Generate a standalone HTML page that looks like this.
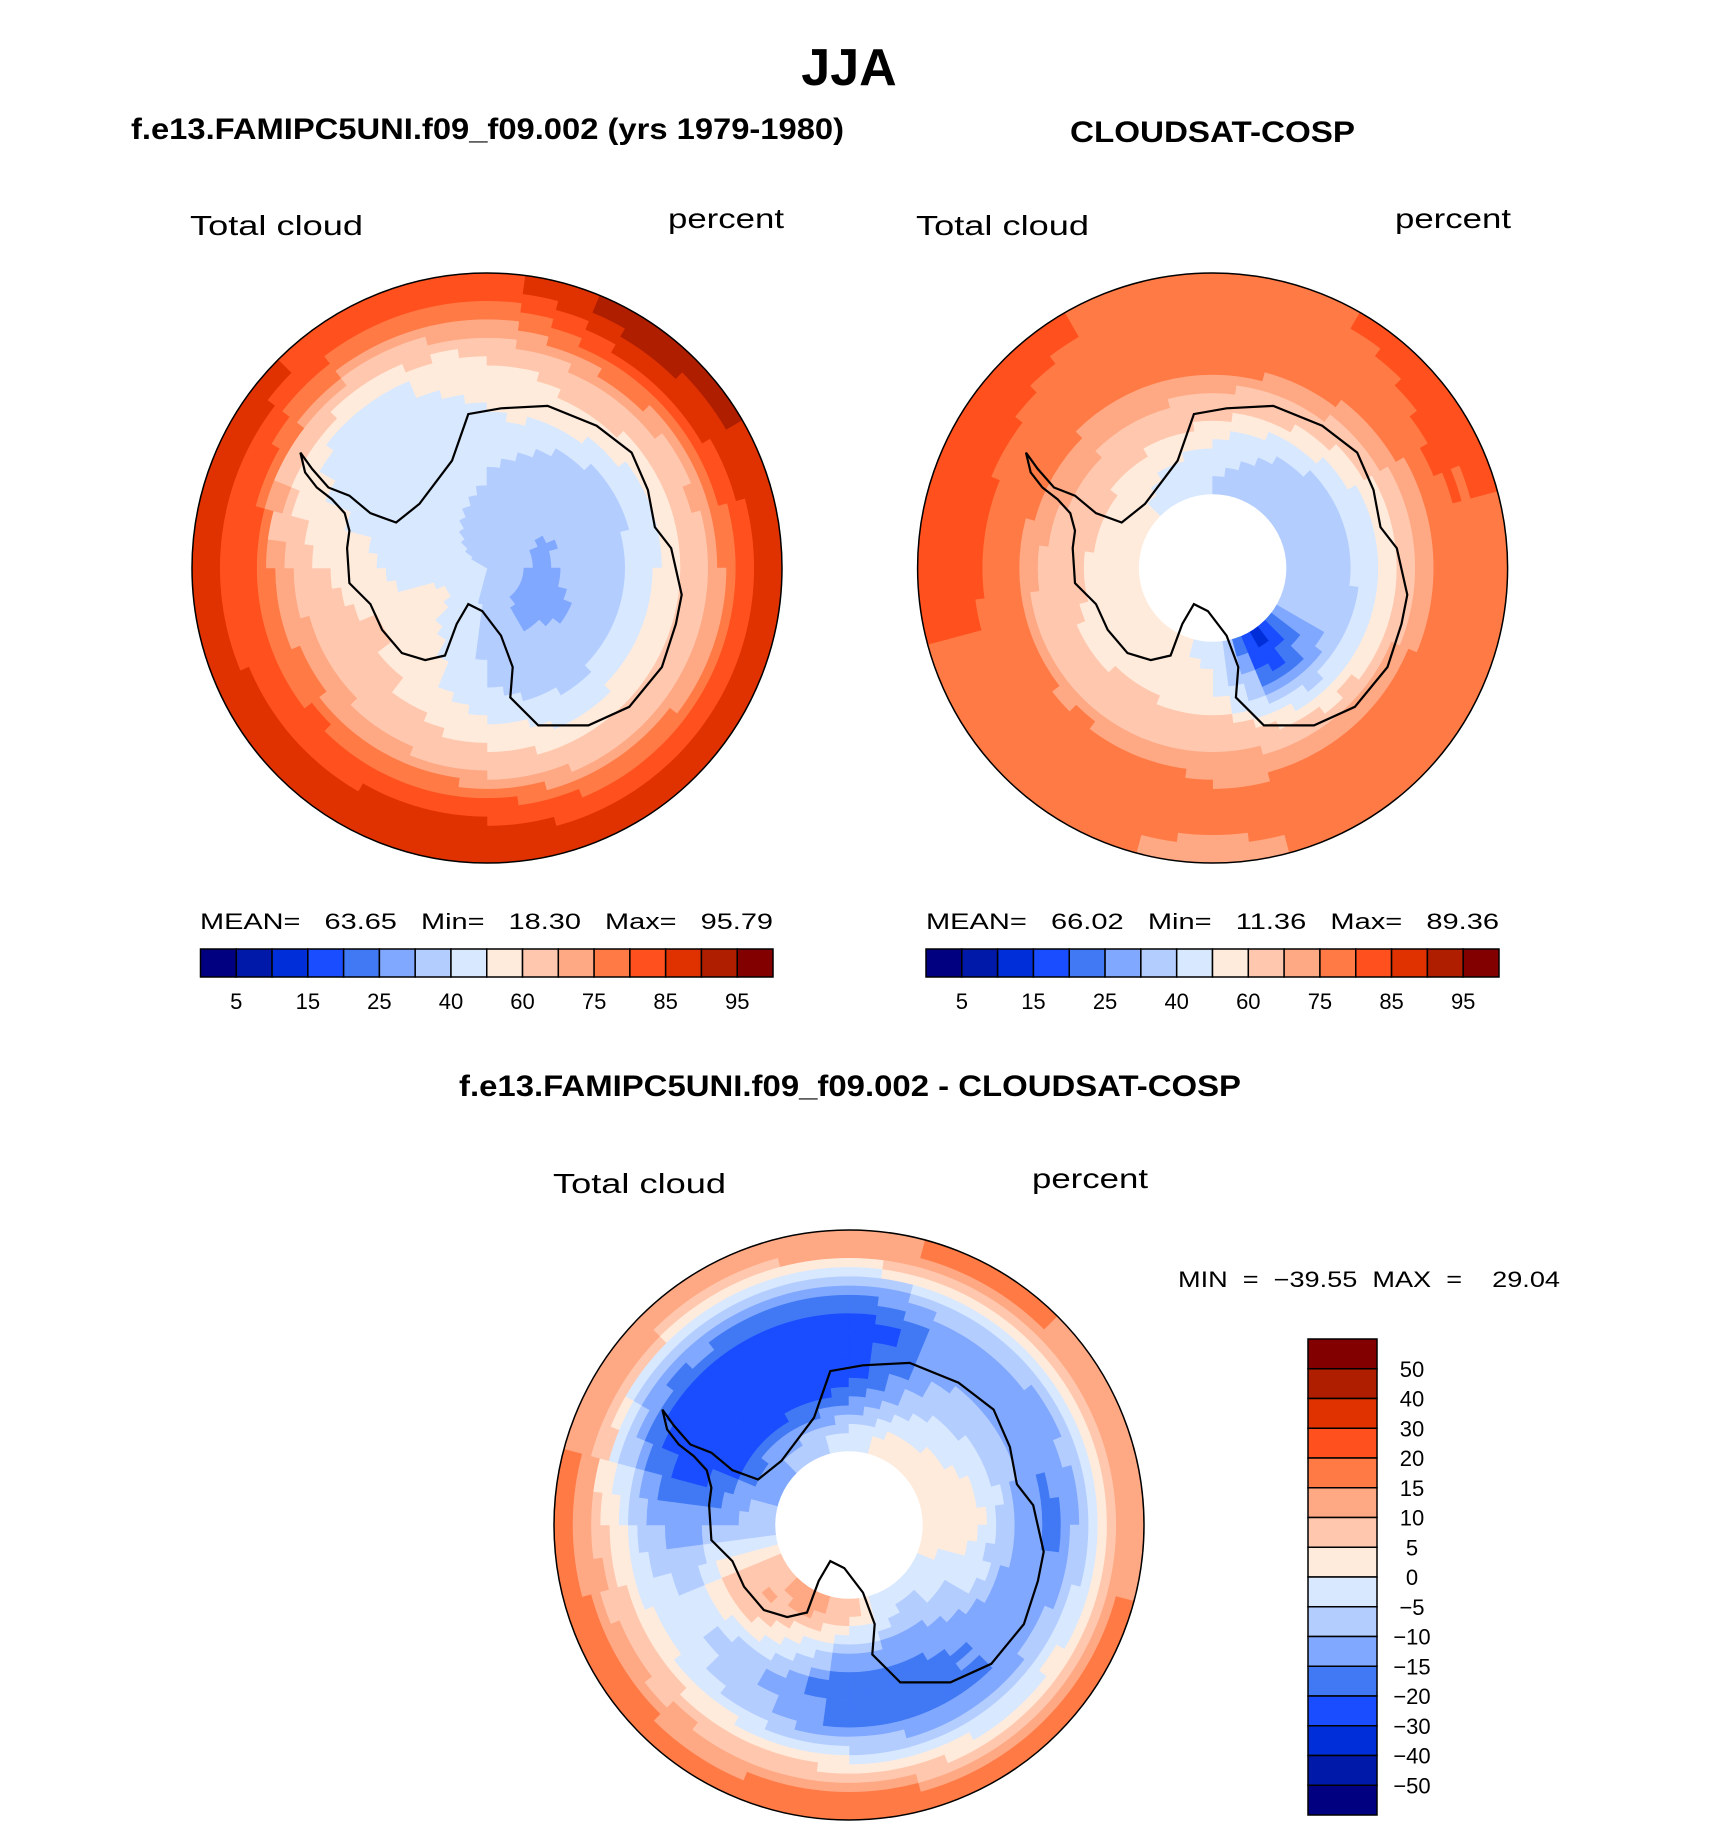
<!DOCTYPE html>
<html><head><meta charset="utf-8"><style>
html,body{margin:0;padding:0;background:#fff;}
svg text{font-family:"Liberation Sans",sans-serif;white-space:pre;}
</style></head><body>
<svg id="fig" width="1710" height="1839" viewBox="0 0 1710 1839" xmlns="http://www.w3.org/2000/svg" xml:space="preserve">
<text x="849" y="85" font-size="52" font-weight="bold" text-anchor="middle">JJA</text>
<text x="131" y="139" font-size="30" font-weight="bold" textLength="713" lengthAdjust="spacingAndGlyphs">f.e13.FAMIPC5UNI.f09_f09.002 (yrs 1979-1980)</text>
<text x="1070" y="142" font-size="30" font-weight="bold" textLength="285" lengthAdjust="spacingAndGlyphs">CLOUDSAT-COSP</text>
<text x="459" y="1096" font-size="30" font-weight="bold" textLength="782" lengthAdjust="spacingAndGlyphs">f.e13.FAMIPC5UNI.f09_f09.002 - CLOUDSAT-COSP</text>
<g id="maps"></g>
</svg>
<script>
// ---- data ----
const modelLevels=[5,10,15,20,25,30,40,50,60,70,75,80,85,90,95];
const modelLevelLabels=["5","15","25","40","60","75","85","95"];
const diffLevels=[-50,-40,-30,-20,-15,-10,-5,0,5,10,15,20,30,40,50];
const diffLevelLabels=["−50","−40","−30","−20","−15","−10","−5","0","5","10","15","20","30","40","50"];
const palette=["#000080","#0019a8","#002ed8","#1a4dff","#4179f5","#80a8ff","#b4cdff","#d7e8ff","#ffebdc","#ffc8ae","#ffa884","#ff7a44","#ff501e","#e03200","#b01e00","#820000"];
const sectorAngles=[0,30,60,90,120,150,180,210,240,270,300,330];
const bandRadii=[0.0625,0.1875,0.3125,0.4375,0.5625,0.6875,0.8125,0.9375];
const modelField=[
[36,35,34,33,33,34,38,42,44,42,40,38],
[38,33,30,28,26,29,36,46,52,46,42,40],
[40,34,31,33,30,32,38,50,56,46,43,44],
[45,38,35,37,36,35,42,55,62,55,45,45],
[50,55,45,48,50,46,56,62,66,60,46,45],
[58,65,62,65,65,62,68,72,75,72,52,47],
[72,82,82,76,76,78,84,84,82,82,80,72],
[82,92,90,87,87,86,87,87,87,86,86,84]];
const obsField=[
null,null,
[40,35,38,40,30,12,45,55,55,55,55,45],
[52,40,36,38,30,20,55,58,58,60,62,58],
[68,62,52,48,48,55,65,65,62,68,72,70],
[76,76,72,70,74,74,74,76,77,78,78,77],
[79,78,80,79,79,77,76,77,79,81,80,79],
[79,80,81,79,77,76,74,76,79,81,82,80]];
const diffField=[
null,null,
[-3,2,3,5,-3,-5,8,12,8,-8,-12,-8],
[-18,-5,-2,2,-5,-12,-12,2,10,-10,-24,-22],
[-26,-10,-8,-10,-12,-18,-20,-10,-3,-14,-26,-26],
[-24,-14,-15,-17,-14,-16,-16,-8,-2,-8,-24,-24],
[-12,-4,-8,-6,-2,-3,2,5,8,5,-8,-12],
[14,16,14,14,16,16,18,16,16,16,14,12]];
// coastline (relative to map centre, unit radius)
const coastPx=[[258,388],[262,405],[272,418],[285,428],[296,440],[300,455],[298,470],[300,500],[318,518],[328,540],[345,560],[365,566],[382,562],[392,535],[402,518],[414,524],[430,545],[440,572],[438,598],[462,622],[505,622],[540,606],[568,572],[580,535],[585,510],[576,470],[562,452],[556,420],[542,388],[512,365],[470,348],[430,350],[402,355],[388,395],[360,432],[340,448],[318,440],[300,425],[282,418],[268,402]];
const NS="http://www.w3.org/2000/svg";
const maps=document.getElementById('maps');
function mk(tag,attrs,parent){const e=document.createElementNS(NS,tag);for(const k in attrs)e.setAttribute(k,attrs[k]);(parent||maps).appendChild(e);return e;}
function colorFor(v,levels){let i=0;while(i<levels.length&&v>=levels[i])i++;return palette[i];}
function fieldAt(field,bi,si){return field[bi][(si+12)%12];}
function drawMap(name,cx,cy,R,field,levels,hole){
  const g=mk('g',{});
  
  
  const sub=4;
  for(let b=0;b<bandRadii.length;b++){
    if(!field[b])continue;
    for(let s=0;s<sectorAngles.length;s++){
      for(let i=0;i<sub;i++)for(let j=0;j<sub;j++){
        const r0=(b+i/sub)/8, r1=(b+(i+1)/sub)/8;
        const a0=sectorAngles[s]-15+j*30/sub, a1=a0+30/sub;
        const fr=(i+0.5)/sub-0.5, fa=(j+0.5)/sub-0.5;
        const bn=Math.min(7,Math.max(0,b+(fr<0?-1:1)));
        const sn=s+(fa<0?-1:1);
        const v00=fieldAt(field,b,s);
        const vb=field[bn]?fieldAt(field,bn,s):v00;
        const vs=fieldAt(field,b,sn);
        const v=v00+(vb-v00)*Math.abs(fr)+(vs-v00)*Math.abs(fa);
        const p=(r,a)=>{const t=a*Math.PI/180;return[cx+R*r*Math.sin(t),cy-R*r*Math.cos(t)];};
        const A=p(r0,a0),B=p(r1,a0),C=p(r1,a1),D=p(r0,a1);
        const c=colorFor(v,levels);
        const cell=mk('path',{d:`M${A}L${B}A${R*r1},${R*r1} 0 0 1 ${C}L${D}A${R*r0},${R*r0} 0 0 0 ${A}Z`,fill:c,stroke:c,'stroke-width':0.6},g);
        
        
      }
    }
  }
  if(hole){const h=mk('circle',{cx,cy,r:R*hole,fill:'#fff'},g);
    
    }
  const pts=coastPx.map(([x,y])=>[(cx+(x-418)/253*R).toFixed(1),(cy+(y-487)/253*R).toFixed(1)].join(',')).join(' ');
  const coast=mk('polygon',{points:pts,fill:'none',stroke:'#000','stroke-width':2.2},g);
  
  
  const rim=mk('circle',{cx,cy,r:R,fill:'none',stroke:'#000','stroke-width':1.5},g);
  
  
}
function label(name,x,y,txt,size,len,anchor){
  const t=mk('text',{x,y,'font-size':size,'text-anchor':anchor||'start'});
  if(len){t.setAttribute('textLength',len);t.setAttribute('lengthAdjust','spacingAndGlyphs');}
  t.textContent=txt;
  
  
}
function hbar(name,x0,x1,y0,y1){
  const g=mk('g',{});
  
  
  const w=(x1-x0)/16;
  for(let i=0;i<16;i++){const r=mk('rect',{x:x0+i*w,y:y0,width:w,height:y1-y0,fill:palette[i],stroke:'#000','stroke-width':1.5},g);
    
    }
  for(let k=0;k<modelLevelLabels.length;k++){
    label('colorbar-tick-label',x0+(1+2*k)*w,y1+32,modelLevelLabels[k],22,null,'middle');
  }
}
drawMap('model-map',487,568,295,modelField,modelLevels,0);
label('model-variable-label',190,235,'Total cloud',28,173);
label('model-units-label',668,228,'percent',28,116);
label('model-stats',200,929,'MEAN=   63.65   Min=   18.30   Max=   95.79',22,573);
hbar('model-colorbar',200.5,773,949,977);
drawMap('obs-map',1212.6,568,295,obsField,modelLevels,0.25);
label('obs-variable-label',916,235,'Total cloud',28,173);
label('obs-units-label',1395,228,'percent',28,116);
label('obs-stats',926,929,'MEAN=   66.02   Min=   11.36   Max=   89.36',22,573);
hbar('obs-colorbar',926,1499,949,977);
drawMap('diff-map',849,1525,295,diffField,diffLevels,0.25);
label('diff-variable-label',553,1193,'Total cloud',28,173);
label('diff-units-label',1032,1188,'percent',28,116);
label('diff-stats',1178,1287,'MIN  =  −39.55  MAX  =    29.04',22,382);
(function(){
  const g=mk('g',{});
  
  
  const x0=1308,x1=1377,y0=1339,y1=1815,h=(y1-y0)/16;
  for(let i=0;i<16;i++){const r=mk('rect',{x:x0,y:y0+i*h,width:x1-x0,height:h,fill:palette[15-i],stroke:'#000','stroke-width':1.5},g);
    
    }
  for(let k=0;k<diffLevelLabels.length;k++){
    label('colorbar-tick-label',1412,y0+(15-k)*h+8,diffLevelLabels[k],22,null,'middle');
  }
})();
</script>
</body></html>
